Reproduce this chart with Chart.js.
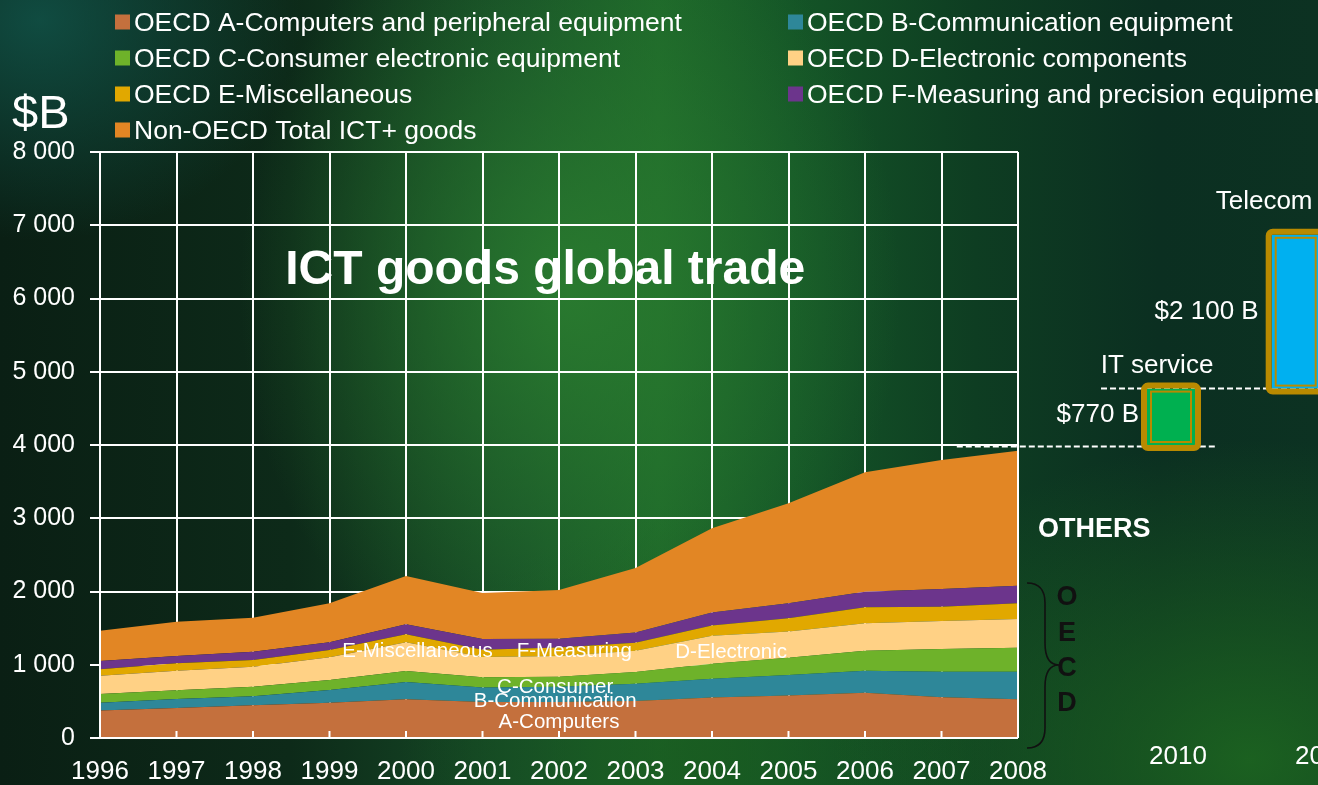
<!DOCTYPE html>
<html><head><meta charset="utf-8">
<script src="https://cdn.jsdelivr.net/npm/chart.js@4.4.1/dist/chart.umd.min.js"></script>
<style>
html,body{margin:0;padding:0;width:1318px;height:785px;overflow:hidden;}
body{
 background:
  radial-gradient(ellipse 260px 220px at 40px 20px, rgba(18,90,80,0.75), rgba(18,90,80,0) 100%),
  radial-gradient(ellipse 330px 420px at 570px 290px, rgba(44,128,48,0.85), rgba(44,128,48,0) 100%),
  radial-gradient(ellipse 420px 320px at 1250px 760px, rgba(30,105,32,0.85), rgba(30,105,32,0) 100%),
  radial-gradient(ellipse 300px 250px at 700px 760px, rgba(25,90,30,0.7), rgba(25,90,30,0) 100%),
  linear-gradient(90deg, #0a1f14 0%, #0d2a19 22%, #164d27 40%, #1c6529 50%, #145527 60%, #0e3d22 74%, #0b2f21 88%, #0c3222 100%);
}
canvas{display:block;}
</style></head><body>
<canvas id="c" width="1318" height="785"></canvas>
<script>
// ---------------- data ----------------
const years = ['1996','1997','1998','1999','2000','2001','2002','2003','2004','2005','2006','2007','2008'];
const seriesNames = [
  'OECD A-Computers and peripheral equipment',
  'OECD B-Communication equipment',
  'OECD C-Consumer electronic equipment',
  'OECD D-Electronic components',
  'OECD E-Miscellaneous',
  'OECD F-Measuring and precision equipment',
  'Non-OECD Total ICT+ goods'
];
const oecdA = [375, 410, 446, 482, 528, 490, 490, 505, 553, 580, 618, 556, 528];
const oecdB = [107, 122, 123, 173, 237, 200, 210, 235, 255, 280, 301, 349, 377];
const oecdC = [119, 119, 131, 137, 150, 140, 135, 160, 207, 235, 273, 310, 328];
const oecdD = [250, 268, 274, 309, 391, 275, 285, 290, 380, 360, 374, 382, 392];
const oecdE = [87, 101, 91, 100, 110, 100, 115, 110, 141, 181, 218, 196, 213];
const oecdF = [113, 99, 113, 105, 136, 145, 120, 140, 178, 202, 213, 241, 241];
const nonOecd = [412, 469, 465, 532, 660, 630, 665, 880, 1149, 1366, 1630, 1761, 1843];
const shortLabels = ['A-Computers','B-Communication','C-Consumer','D-Electronic','E-Miscellaneous','F-Measuring'];

const yTickMax = 8000, yTickStep = 1000;

// extra (services) columns on the right
const extraYears = ['2010', '2012'];
const extraNames = ['IT service', 'Telecom'];
const extraValues = [770, 2100];
const extraValueLabels = ['$770 B', '$2 100 B'];
const extraBase = 4000;

// ---------------- styles ----------------
const palette = ['#C4703D','#2E8799','#6EB22A','#FFD185','#E1A800','#6C358C','#E28624'];
const FONT = '"Liberation Sans", Arial, sans-serif';
const fmt = v => String(v).replace(/\B(?=(\d{3})+(?!\d))/g, ' ');

const seriesData = [oecdA, oecdB, oecdC, oecdD, oecdE, oecdF, nonOecd];
const datasets = seriesData.map((d, i) => ({
  label: seriesNames[i],
  data: d,
  backgroundColor: palette[i],
  borderColor: palette[i],
  borderWidth: 0,
  pointRadius: 0,
  fill: i === 0 ? 'origin' : '-1',
  tension: 0
}));

function txt(ctx, s, x, y, font, color, align, base) {
  ctx.font = font; ctx.fillStyle = color;
  ctx.textAlign = align || 'left'; ctx.textBaseline = base || 'middle';
  ctx.fillText(s, x, y);
}

const overlay = {
  id: 'overlay',
  afterDatasetsDraw(chart) {
    const ctx = chart.ctx, a = chart.chartArea, xs = chart.scales.x, ys = chart.scales.y;
    ctx.save();
    // axis lines over the areas
    ctx.strokeStyle = '#fff'; ctx.lineWidth = 2;
    ctx.beginPath();
    ctx.moveTo(a.left, a.top); ctx.lineTo(a.left, a.bottom);
    ctx.moveTo(a.left - 10, a.bottom); ctx.lineTo(a.right, a.bottom);
    ctx.moveTo(a.right, a.top); ctx.lineTo(a.right, a.bottom);
    ctx.stroke();
    // small inner tick marks
    ctx.beginPath();
    years.forEach((y, i) => { const px = xs.getPixelForValue(i); ctx.moveTo(px, a.bottom); ctx.lineTo(px, a.bottom - 7); });
    ctx.stroke();
    // inline series labels
    const lab = [[6.0, 210], [5.95, 505], [5.95, 690], [8.25, 1170], [4.15, 1185], [6.2, 1185]];
    shortLabels.forEach((s, i) => {
      txt(ctx, s, xs.getPixelForValue(lab[i][0]), ys.getPixelForValue(lab[i][1]), '20.5px ' + FONT, '#fff', 'center');
    });
    // title
    txt(ctx, 'ICT goods global trade', xs.getPixelForValue(5.82), ys.getPixelForValue(6375), 'bold 48px ' + FONT, '#fff', 'center');
    ctx.restore();
  },
  afterDraw(chart) {
    const ctx = chart.ctx, a = chart.chartArea, xs = chart.scales.x, ys = chart.scales.y;
    ctx.save();
    // legend (two columns)
    chart.data.datasets.forEach((ds, i) => {
      const col = i % 2, row = Math.floor(i / 2);
      const x = col === 0 ? 115 : 788, y = 22 + row * 36;
      ctx.fillStyle = ds.backgroundColor;
      ctx.fillRect(x, y - 7.5, 15, 15);
      txt(ctx, ds.label, x + 19, y + 1.5, '26.5px ' + FONT, '#fff');
    });
    // unit
    txt(ctx, '$B', 12, 115, '47px ' + FONT, '#fff');

    const step = xs.getPixelForValue(1) - xs.getPixelForValue(0);
    const xEnd = xs.getPixelForValue(years.length - 1);
    const cx = [xEnd + 2 * step, xEnd + 3.63 * step];
    const yBase = ys.getPixelForValue(extraBase);
    const yMid = ys.getPixelForValue(extraBase + extraValues[0]);
    const yTop = ys.getPixelForValue(extraBase + extraValues[0] + extraValues[1]);

    // dashed reference lines
    ctx.strokeStyle = '#fff'; ctx.lineWidth = 2; ctx.setLineDash([6, 3]);
    ctx.beginPath();
    ctx.moveTo(xs.getPixelForValue(11.2), yBase + 1.5); ctx.lineTo(cx[0] + 45, yBase + 1.5);
    ctx.moveTo(cx[0] - 70, yMid); ctx.lineTo(1318, yMid);
    ctx.stroke();
    ctx.setLineDash([]);

    // boxes
    const boxes = [[cx[0], yMid, yBase, '#00B050'], [cx[1], yTop, yMid, '#00B0F0']];
    boxes.forEach(([c, t, b, col]) => {
      ctx.fillStyle = col;
      ctx.fillRect(c - 24, t, 48, b - t);
      ctx.strokeStyle = '#B98A00';
      ctx.lineWidth = 6;
      ctx.beginPath();
      ctx.roundRect(c - 27, t - 3, 54, b - t + 6, 4);
      ctx.stroke();
      ctx.lineWidth = 2;
      ctx.strokeRect(c - 20, t + 3, 40, b - t - 6);
    });

    // annotation texts
    txt(ctx, extraValueLabels[0], cx[0] - 32, (yMid + yBase) / 2 - 2, '26px ' + FONT, '#fff', 'right');
    txt(ctx, extraValueLabels[1], cx[1] - 37, (yTop + yMid) / 2, '26px ' + FONT, '#fff', 'right');
    txt(ctx, extraNames[0], cx[0] - 14, yMid - 23, '26px ' + FONT, '#fff', 'center');
    txt(ctx, extraNames[1], cx[1] - 80, yTop - 33, '26px ' + FONT, '#fff', 'left');
    txt(ctx, extraYears[0], xEnd + 2 * step + 7, 757, '26px ' + FONT, '#fff', 'center');
    txt(ctx, extraYears[1], xEnd + 4 * step, 757, '26px ' + FONT, '#fff', 'center');

    // OTHERS / OECD brace
    txt(ctx, 'OTHERS', a.right + 20, 530, 'bold 27px ' + FONT, '#fff');
    ctx.strokeStyle = '#111'; ctx.lineWidth = 1.6;
    ctx.beginPath();
    const bx = a.right + 9, top = 583, mid = 665, bot = 748;
    ctx.moveTo(bx, top);
    ctx.quadraticCurveTo(bx + 18, top, bx + 18, top + 20);
    ctx.lineTo(bx + 18, mid - 22);
    ctx.quadraticCurveTo(bx + 18, mid, bx + 32, mid);
    ctx.quadraticCurveTo(bx + 18, mid, bx + 18, mid + 22);
    ctx.lineTo(bx + 18, bot - 20);
    ctx.quadraticCurveTo(bx + 18, bot, bx, bot);
    ctx.stroke();
    ['O','E','C','D'].forEach((L, i) => {
      txt(ctx, L, a.right + 49, [598, 634, 669, 704][i], 'bold 27px ' + FONT, '#111', 'center');
    });
    ctx.restore();
  }
};

new Chart(document.getElementById('c'), {
  type: 'line',
  data: { labels: years, datasets },
  plugins: [overlay],
  options: {
    responsive: false, animation: false, devicePixelRatio: 1,
    layout: { padding: { top: 152, right: 300, bottom: 0, left: 0 } },
    plugins: { legend: { display: false }, tooltip: { enabled: false }, filler: { propagate: false } },
    scales: {
      x: {
        offset: false,
        grid: { color: '#fff', lineWidth: 2, drawTicks: false },
        border: { display: false },
        ticks: { color: '#fff', font: { family: FONT, size: 26 }, padding: 18, maxRotation: 0, autoSkip: false },
        afterFit(s) { s.height = 47; }
      },
      y: {
        stacked: true, min: 0, max: yTickMax,
        grid: { color: '#fff', lineWidth: 2, tickLength: 10 },
        border: { display: false },
        ticks: { stepSize: yTickStep, color: '#fff', font: { family: FONT, size: 25 }, padding: 15, callback: v => fmt(v) },
        afterFit(s) { s.width = 100; }
      }
    }
  }
});
</script>
</body></html>
